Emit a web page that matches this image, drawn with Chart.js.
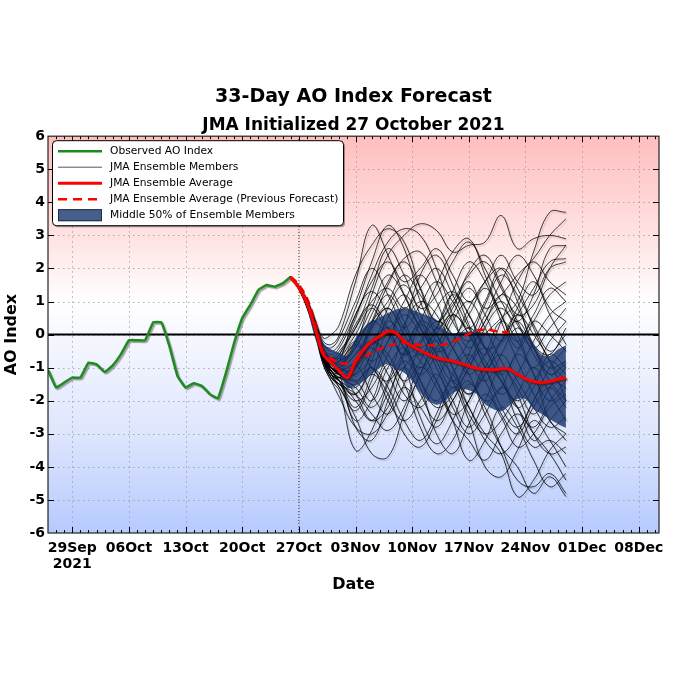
<!DOCTYPE html>
<html>
<head>
<meta charset="utf-8">
<title>33-Day AO Index Forecast</title>
<script src="https://cdn.jsdelivr.net/npm/chart.js@4.4.0/dist/chart.umd.min.js"></script>
<style>
  html, body { margin: 0; padding: 0; background: #fff; }
  #wrap { width: 680px; height: 680px; }
</style>
</head>
<body>
<div id="wrap"><canvas id="aoChart" width="680" height="680"></canvas></div>
<script>
// all x values are days counted from 29 Sep 2021
const tickDays = [0, 7, 14, 21, 28, 35, 42, 49, 56, 63, 70];
const tickLabels = [['29Sep', '2021'], '06Oct', '13Oct', '20Oct', '27Oct', '03Nov', '10Nov', '17Nov', '24Nov', '01Dec', '08Dec'];
const initDay = 28; // 27 Oct

// observed AO index, 26 Sep .. 26 Oct
const obsDays = [-3, -2, -1, 0, 1, 2, 3, 4, 5, 6, 7, 8, 9, 10, 11, 12, 13, 14, 15, 16, 17, 18, 19, 20, 21, 22, 23, 24, 25, 26, 27];
const obsValues = [-1.07, -1.6, -1.45, -1.3, -1.3, -0.85, -0.9, -1.13, -0.93, -0.6, -0.17, -0.17, -0.17, 0.37, 0.37, -0.35,
  -1.25, -1.6, -1.47, -1.55, -1.8, -1.93, -1.15, -0.25, 0.5, 0.9, 1.35, 1.5, 1.45, 1.55, 1.75];

// ensemble members
const fcstDays = [27, 28, 29, 30, 31, 32, 33, 35, 37, 39, 41, 43, 45, 47, 49, 51, 53, 55, 57, 59, 61];
const memberValues = [
  [1.75, 1.45, 1.0, 0.4, -0.2, -0.3, 0.0, 1.6, 3.3, 2.4, 1.2, 0.2, -0.6, -1.2, -1.8, -1.0, -0.2, 0.4, -0.4, -1.0, -0.8],
  [1.75, 1.4, 0.95, 0.3, -0.4, -0.7, -0.6, 0.5, 1.8, 2.8, 3.2, 3.0, 2.0, 0.6, -0.4, 0.4, 1.2, 0.8, -0.4, -1.2, -0.9],
  [1.75, 1.4, 0.9, 0.2, -0.5, -0.8, -0.9, -0.3, 1.2, 2.4, 3.0, 3.35, 3.15, 2.5, 2.7, 2.8, 3.6, 2.6, 2.9, 3.0, 2.9],
  [1.75, 1.42, 0.92, 0.25, -0.6, -1.0, -1.2, -1.5, -0.5, 0.8, 1.5, 0.6, -0.6, -1.4, -0.8, 0.0, 0.5, 1.0, 2.5, 3.7, 3.7],
  [1.75, 1.38, 0.85, 0.15, -0.7, -1.1, -1.3, -0.8, 0.3, 1.5, 2.2, 1.4, 0.4, 0.9, 1.6, 0.8, 1.2, 1.8, 2.3, 3.0, 3.5],
  [1.75, 1.45, 1.05, 0.45, -0.1, 0.0, 0.3, 1.8, 2.7, 3.2, 2.8, 1.4, 0.2, 0.8, 1.9, 2.4, 1.5, 0.6, 0.9, 2.0, 2.7],
  [1.75, 1.4, 0.9, 0.2, -0.6, -1.0, -1.2, -2.8, -3.2, -2.0, -0.8, -1.6, -3.0, -3.6, -2.7, -1.8, -2.5, -3.4, -3.0, -2.2, -1.8],
  [1.75, 1.35, 0.8, 0.0, -0.9, -1.4, -1.7, -3.5, -2.9, -1.5, -0.5, 0.3, -0.2, -1.0, -2.2, -3.0, -3.6, -4.9, -4.4, -3.5, -3.0],
  [1.75, 1.38, 0.85, 0.1, -0.8, -1.3, -1.6, -2.5, -3.6, -3.7, -2.4, -1.2, -0.4, -1.4, -2.6, -4.0, -4.3, -3.5, -2.6, -3.2, -4.0],
  [1.75, 1.4, 0.9, 0.2, -0.7, -1.1, -1.4, -2.2, -1.2, 0.0, -0.9, -2.5, -3.3, -2.6, -1.5, -2.2, -3.4, -4.4, -4.6, -4.2, -4.8],
  [1.75, 1.42, 0.95, 0.3, -0.5, -0.8, -0.7, 0.3, 0.9, 0.2, -0.6, 0.4, 1.5, 2.5, 2.9, 1.8, 0.6, -0.2, 0.6, 1.4, 1.0],
  [1.75, 1.4, 0.9, 0.2, -0.6, -0.9, -1.0, -1.2, -0.6, 0.5, 1.2, 0.4, -0.5, -0.2, 0.8, 1.6, 2.0, 1.0, -0.3, -0.6, 0.2],
  [1.75, 1.4, 0.9, 0.2, -0.6, -1.0, -1.1, -0.9, -1.8, -2.4, -1.5, -0.3, 0.8, 1.3, 0.6, -0.4, -1.2, -0.5, 0.4, 0.0, -0.5],
  [1.75, 1.42, 0.92, 0.25, -0.5, -0.9, -0.8, 0.6, 1.3, 0.6, -0.4, -1.2, -0.6, 0.4, 1.0, 0.2, -0.8, -1.6, -2.4, -1.6, -1.0],
  [1.75, 1.38, 0.85, 0.1, -0.8, -1.3, -1.5, -2.0, -1.6, -0.6, 0.3, 1.0, 0.6, -0.4, -1.2, -2.0, -1.6, -0.6, -1.2, -2.6, -3.0],
  [1.75, 1.4, 0.9, 0.2, -0.6, -1.1, -1.3, -1.6, -2.2, -1.4, 0.2, 1.8, 2.4, 1.5, 0.3, -0.8, -1.4, -2.2, -2.8, -2.0, -1.4],
  [1.75, 1.45, 1.0, 0.4, -0.3, -0.4, -0.1, 1.0, 2.0, 1.2, 0.2, -0.4, 0.2, 1.3, 2.2, 1.6, 0.4, -0.8, -1.8, -2.6, -3.2],
  [1.75, 1.4, 0.9, 0.2, -0.7, -1.2, -1.5, -1.8, -0.8, 0.4, -0.2, -1.4, -2.2, -1.8, -0.6, 0.4, 1.0, 0.3, -0.6, -1.4, -2.0],
  [1.75, 1.4, 0.9, 0.15, -0.7, -1.2, -1.4, -2.6, -2.0, -0.9, -1.5, -2.8, -3.6, -3.2, -2.0, -1.2, -0.6, -1.4, -2.2, -2.8, -2.5],
  [1.75, 1.38, 0.85, 0.1, -0.8, -1.2, -1.3, -1.0, 0.2, 0.8, 0.0, -0.8, -1.4, -2.6, -3.8, -3.2, -2.2, -2.8, -3.8, -4.6, -4.2],
  [1.75, 1.42, 0.95, 0.3, -0.5, -0.8, -0.8, -0.4, 0.6, 1.6, 2.3, 2.5, 1.6, 0.4, -0.2, 0.6, 1.6, 2.4, 1.8, 0.8, 0.4],
  [1.75, 1.4, 0.9, 0.2, -0.6, -1.0, -1.1, -0.6, -0.2, -0.8, -1.8, -2.2, -1.4, -0.4, 0.2, -0.4, -1.4, -2.0, -1.4, -0.8, -1.2],
  [1.75, 1.4, 0.92, 0.25, -0.5, -0.9, -1.0, -0.2, 0.8, 1.8, 1.2, 0.2, -0.2, 0.6, 1.4, 0.6, -0.2, 0.6, 1.4, 2.2, 2.3],
  [1.75, 1.38, 0.88, 0.15, -0.7, -1.2, -1.6, -2.3, -1.4, -0.2, 0.6, 0.0, -1.0, -2.0, -2.8, -2.0, -1.0, -1.8, -3.0, -3.6, -3.4],
  [1.75, 1.45, 1.0, 0.35, -0.3, -0.5, -0.3, 0.8, 2.2, 3.3, 2.6, 1.0, 0.0, -0.8, -0.2, 0.9, 1.8, 1.2, 0.3, -0.5, 0.0],
  [1.75, 1.4, 0.9, 0.2, -0.6, -1.0, -1.2, -1.4, -1.0, -1.6, -2.6, -3.2, -2.4, -1.2, -0.6, -1.4, -2.4, -3.0, -2.2, -1.6, -2.2],
  [1.75, 1.4, 0.9, 0.2, -0.6, -0.9, -0.9, -0.2, -0.8, -0.2, 0.8, 0.2, -0.8, -1.6, -1.0, 0.2, 0.8, 0.0, -1.2, -2.0, -1.6],
  [1.75, 1.42, 0.92, 0.2, -0.6, -1.0, -1.1, -0.8, 0.4, 1.2, 0.4, -0.6, 0.2, 1.2, 0.6, -0.4, -0.2, 0.8, 1.6, 0.6, -0.3],
  [1.75, 1.38, 0.85, 0.1, -0.8, -1.3, -1.5, -1.8, -2.4, -2.9, -2.2, -1.0, -1.6, -2.6, -3.2, -3.8, -3.0, -2.4, -3.0, -3.6, -4.4],
  [1.75, 1.4, 0.9, 0.2, -0.6, -1.0, -1.0, -0.4, 0.4, 0.0, -0.6, -0.2, 0.4, 0.0, -0.8, -1.4, -0.6, 0.2, -0.4, -1.2, -0.8],
  [1.75, 1.42, 0.95, 0.3, -0.4, -0.6, -0.4, 0.6, 1.6, 2.2, 1.6, 2.0, 2.6, 1.8, 1.0, 1.6, 2.4, 1.6, 1.2, 2.0, 2.2],
  [1.75, 1.4, 0.9, 0.2, -0.6, -1.1, -1.4, -1.8, -1.2, -1.8, -3.0, -3.4, -2.6, -1.6, -2.2, -3.2, -3.6, -3.0, -2.0, -1.4, -1.6],
  [1.75, 1.4, 0.88, 0.15, -0.7, -1.1, -1.2, -1.2, -0.2, 0.2, -0.4, -1.0, -0.4, 0.6, 0.0, -1.0, -1.8, -1.2, -0.2, 0.6, 1.0],
  [1.75, 1.42, 0.95, 0.3, -0.5, -0.7, -0.5, 0.2, 1.4, 2.6, 1.8, 0.8, 1.2, 2.2, 2.8, 2.0, 1.0, 0.4, 1.2, 2.6, 2.7],
  [1.75, 1.4, 0.9, 0.2, -0.6, -1.0, -1.2, -1.8, -2.6, -2.2, -1.0, -0.6, -1.4, -2.4, -2.0, -1.0, -1.4, -2.6, -3.4, -3.2, -3.6],
  [1.75, 1.38, 0.85, 0.1, -0.9, -1.4, -1.9, -2.8, -3.0, -2.4, -1.6, -2.2, -2.8, -2.0, -1.4, -2.4, -3.4, -4.0, -4.8, -4.3, -4.9],
  [1.75, 1.4, 0.9, 0.2, -0.6, -0.9, -0.8, -0.2, 0.4, 1.0, 1.8, 1.2, 0.4, 1.0, 1.8, 2.2, 1.4, 0.4, -0.4, 0.2, 0.8],
  [1.75, 1.4, 0.9, 0.2, -0.6, -1.0, -1.2, -1.0, -0.4, -1.2, -2.0, -1.2, 0.0, 0.6, 0.0, -1.0, -2.2, -2.8, -2.0, -1.0, -0.4],
  [1.75, 1.42, 0.92, 0.25, -0.55, -0.9, -1.0, -0.6, 0.2, 0.8, 0.2, 0.9, 1.6, 1.0, 0.2, 1.0, 2.0, 1.4, 0.2, -0.8, -1.4],
  [1.75, 1.38, 0.86, 0.12, -0.75, -1.2, -1.4, -2.0, -2.6, -1.8, -1.0, -1.8, -2.6, -2.0, -1.0, -0.4, -1.2, -2.2, -1.6, -0.6, -1.0],
  [1.75, 1.4, 0.9, 0.2, -0.6, -1.0, -1.0, -0.3, -1.0, -1.4, -0.6, 0.4, 0.0, -1.0, -1.8, -1.2, -0.2, 0.6, 0.0, -0.8, -2.0],
  [1.75, 1.42, 0.95, 0.28, -0.5, -0.8, -0.6, 0.2, 1.0, 1.4, 0.8, 1.4, 2.0, 1.2, 0.2, -0.6, 0.4, 1.6, 2.2, 1.6, 1.2],
  [1.75, 1.4, 0.9, 0.2, -0.65, -1.1, -1.3, -1.4, -2.0, -1.0, -0.4, -1.4, -2.0, -1.4, -2.4, -3.0, -2.6, -1.8, -1.0, -1.8, -2.6],
  [1.75, 1.4, 0.9, 0.2, -0.6, -1.0, -1.1, -1.0, -0.2, -0.6, -1.4, -0.8, 0.2, -0.4, -1.2, -0.6, 0.4, -0.2, -1.0, -0.2, 0.4],
  [1.75, 1.42, 0.95, 0.3, -0.45, -0.7, -0.7, 0.0, 0.8, 0.2, 1.0, 1.8, 1.0, 0.0, 0.6, 1.4, 0.6, -0.4, 0.4, 1.2, 1.6],
  [1.75, 1.38, 0.86, 0.12, -0.75, -1.2, -1.4, -1.6, -1.0, -2.0, -2.6, -2.0, -1.2, -2.2, -3.0, -2.4, -1.6, -2.2, -3.2, -2.6, -2.0]
];

// ensemble average, daily 26 Oct .. 28 Nov
const avgDays = [27, 28, 29, 30, 31, 32, 33, 34, 35, 36, 37, 38, 39, 40, 41, 42, 43, 44, 45, 46, 47, 48, 49, 50, 51, 52, 53, 54, 55, 56, 57, 58, 59, 60, 61];
const avgValues = [1.72, 1.42, 0.95, 0.2, -0.6, -0.85, -1.1, -1.3, -0.8, -0.45, -0.2, -0.05, 0.1, 0.05, -0.2, -0.35, -0.48, -0.6,
  -0.7, -0.75, -0.8, -0.87, -0.95, -1.02, -1.05, -1.07, -1.03, -1.05, -1.2, -1.33, -1.42, -1.45, -1.42, -1.35, -1.3];

// previous forecast average
const prevDays = [27, 28, 29, 30, 31, 32, 33, 34, 35, 36, 37, 38, 39, 40, 41, 42, 43, 44, 45, 46, 47, 48, 49, 50, 51, 52, 53, 54];
const prevValues = [1.75, 1.5, 1.1, 0.4, -0.5, -0.72, -0.85, -0.88, -0.8, -0.68, -0.55, -0.43, -0.35, -0.28, -0.25, -0.28, -0.31,
  -0.32, -0.32, -0.3, -0.22, -0.1, 0.02, 0.12, 0.15, 0.12, 0.08, 0.06];

// middle 50% of members
const bandDays = avgDays;
const bandUpper = [1.75, 1.5, 1.05, 0.35, -0.25, -0.45, -0.55, -0.65, -0.1, 0.2, 0.4, 0.52, 0.65, 0.76, 0.79, 0.75, 0.65, 0.56,
  0.45, 0.15, 0.04, 0.07, 0.09, 0.08, 0.06, 0.02, 0.01, 0.03, 0.04, 0.0, -0.3, -0.6, -0.65, -0.45, -0.32];
const bandLower = [1.7, 1.35, 0.8, -0.1, -0.65, -0.95, -1.15, -1.62, -1.55, -1.4, -1.2, -1.0, -0.88, -1.05, -1.15, -1.4, -1.75, -2.0,
  -2.12, -2.02, -1.78, -1.65, -1.68, -1.8, -2.1, -2.25, -2.32, -2.15, -1.95, -1.95, -2.25, -2.4, -2.55, -2.7, -2.82];

const legendLabels = ['Observed AO Index', 'JMA Ensemble Members', 'JMA Ensemble Average',
  'JMA Ensemble Average (Previous Forecast)', 'Middle 50% of Ensemble Members'];

const GREEN = '#1f8a1f';
const RED = '#ff0000';
const BAND = 'rgba(20,50,105,0.8)';

const toPts = (xs, ys) => ys.map((y, i) => ({ x: xs[i], y: y }));

// Build datasets
const memberSets = memberValues.map(vals => ({
    data: toPts(fcstDays, vals),
    borderColor: 'rgba(0,0,0,0.85)',
    borderWidth: 0.9,
    pointRadius: 0,
    tension: 0.4,
    fill: false,
    order: 10,
    shadow: 'rgba(0,0,0,0.2)'
}));

const datasets = [
    { data: toPts(avgDays, avgValues), borderColor: RED, borderWidth: 3, pointRadius: 0, tension: 0.3, order: 1, shadow: 'rgba(60,20,20,0.6)' },
    { data: toPts(prevDays, prevValues), borderColor: RED, borderWidth: 2.5, borderDash: [8, 5], pointRadius: 0, tension: 0.3, order: 2 },
    { data: toPts(obsDays, obsValues), borderColor: GREEN, borderWidth: 2.5, pointRadius: 0, tension: 0.1, order: 3, shadow: 'rgba(90,90,90,0.55)' },
    { data: [{ x: -3, y: 0 }, { x: 72.5, y: 0 }], borderColor: '#000', borderWidth: 2, pointRadius: 0, order: 4 },
    { data: [{ x: initDay, y: -6 }, { x: initDay, y: 6 }], borderColor: 'rgba(0,0,0,0.7)', borderWidth: 1, borderDash: [1, 2], pointRadius: 0, order: 4 },
    { data: toPts(bandDays, bandLower), borderColor: 'rgba(0,0,0,0)', borderWidth: 0, pointRadius: 0, tension: 0.3, fill: false, order: 5 },
    { data: toPts(bandDays, bandUpper), borderColor: 'rgba(0,0,0,0)', borderWidth: 0, pointRadius: 0, tension: 0.3, fill: '-1', backgroundColor: BAND, order: 5 }
].concat(memberSets);

// Shadow under selected lines
const shadowPlugin = {
    id: 'lineShadow',
    beforeDatasetDraw(chart, args) {
        const ds = chart.data.datasets[args.index];
        if (!ds.shadow) return;
        const ctx = chart.ctx;
        ctx.save();
        ctx.shadowColor = ds.shadow;
        ctx.shadowOffsetX = 1.5;
        ctx.shadowOffsetY = 1.5;
        ctx.shadowBlur = 1;
    },
    afterDatasetDraw(chart, args) {
        if (chart.data.datasets[args.index].shadow) chart.ctx.restore();
    }
};

// Background, grid, frame, inward ticks and legend box
const decorPlugin = {
    id: 'decor',
    beforeDraw(chart) {
        const ctx = chart.ctx;
        const { left, right, top, bottom } = chart.chartArea;
        const yS = chart.scales.y;
        ctx.save();
        ctx.fillStyle = '#fff';
        ctx.fillRect(0, 0, chart.width, chart.height);
        const g = ctx.createLinearGradient(0, yS.getPixelForValue(6), 0, yS.getPixelForValue(-6));
        g.addColorStop(0, 'rgb(255,190,190)');
        g.addColorStop(0.25, 'rgb(255,226,226)');
        g.addColorStop(0.42, 'rgb(255,255,255)');
        g.addColorStop(0.5, 'rgb(246,248,255)');
        g.addColorStop(0.75, 'rgb(222,230,253)');
        g.addColorStop(1, 'rgb(182,202,254)');
        ctx.fillStyle = g;
        ctx.fillRect(left, top, right - left, bottom - top);
        ctx.restore();
    },
    beforeDatasetsDraw(chart) {
        const ctx = chart.ctx;
        const { left, right, top, bottom } = chart.chartArea;
        const xS = chart.scales.x, yS = chart.scales.y;
        ctx.save();
        ctx.strokeStyle = 'rgba(150,150,150,0.75)';
        ctx.lineWidth = 1;
        ctx.setLineDash([1.5, 3.5]);
        tickDays.forEach(d => {
            const px = Math.round(xS.getPixelForValue(d)) + 0.5;
            ctx.beginPath(); ctx.moveTo(px, top); ctx.lineTo(px, bottom); ctx.stroke();
        });
        for (let v = -5; v <= 5; v++) {
            const py = Math.round(yS.getPixelForValue(v)) + 0.5;
            ctx.beginPath(); ctx.moveTo(left, py); ctx.lineTo(right, py); ctx.stroke();
        }
        ctx.restore();
    },
    afterDatasetsDraw(chart) {
        const ctx = chart.ctx;
        const { left, right, top, bottom } = chart.chartArea;
        const xS = chart.scales.x, yS = chart.scales.y;
        ctx.save();
        ctx.strokeStyle = '#000';
        ctx.lineWidth = 1;
        ctx.beginPath();
        for (let d = -2; d <= 72; d++) {
            const px = Math.round(xS.getPixelForValue(d)) + 0.5;
            const len = tickDays.includes(d) ? 6 : 3;
            ctx.moveTo(px, bottom); ctx.lineTo(px, bottom - len);
            ctx.moveTo(px, top); ctx.lineTo(px, top + len);
        }
        for (let v = -5; v <= 5; v++) {
            const py = Math.round(yS.getPixelForValue(v)) + 0.5;
            ctx.moveTo(left, py); ctx.lineTo(left + 6, py);
            ctx.moveTo(right, py); ctx.lineTo(right - 6, py);
        }
        ctx.stroke();
        ctx.strokeStyle = '#222';
        ctx.lineWidth = 1.2;
        ctx.strokeRect(left, top, right - left, bottom - top);
        ctx.restore();
    },
    afterDraw(chart) {
        const ctx = chart.ctx;
        const x0 = chart.chartArea.left + 4, y0 = chart.chartArea.top + 4;
        const w = 291, h = 85;
        ctx.save();
        ctx.fillStyle = 'rgba(0,0,0,0.35)';
        ctx.beginPath(); ctx.roundRect(x0 + 2, y0 + 2, w, h, 4); ctx.fill();
        ctx.fillStyle = '#fff';
        ctx.strokeStyle = '#000';
        ctx.lineWidth = 1;
        ctx.beginPath(); ctx.roundRect(x0 + 0.5, y0 + 0.5, w, h, 4); ctx.fill(); ctx.stroke();

        ctx.font = '10.7px "DejaVu Sans"';
        ctx.textBaseline = 'middle';
        ctx.fillStyle = '#000';
        legendLabels.forEach((label, i) => {
            const ry = y0 + 11 + i * 16;
            const sx0 = x0 + 6, sx1 = x0 + 50;
            ctx.save();
            if (i === 4) {
                ctx.fillStyle = 'rgba(25,55,110,0.8)';
                ctx.fillRect(sx0, ry - 6, sx1 - sx0, 12);
                ctx.strokeStyle = 'rgba(20,40,80,0.9)';
                ctx.strokeRect(sx0 + 0.5, ry - 5.5, sx1 - sx0 - 1, 11);
            } else {
                ctx.beginPath();
                ctx.moveTo(sx0, ry); ctx.lineTo(sx1, ry);
                if (i === 0) { ctx.strokeStyle = GREEN; ctx.lineWidth = 2.5; }
                if (i === 1) { ctx.strokeStyle = '#444'; ctx.lineWidth = 0.9; }
                if (i === 2) { ctx.strokeStyle = RED; ctx.lineWidth = 3; }
                if (i === 3) { ctx.strokeStyle = RED; ctx.lineWidth = 2.5; ctx.setLineDash([9, 6]); }
                ctx.stroke();
            }
            ctx.restore();
            ctx.fillText(label, x0 + 58, ry + 0.5);
        });
        ctx.restore();
    }
};

Chart.defaults.font.family = '"DejaVu Sans", sans-serif';
Chart.defaults.color = '#000';

const ctx = document.getElementById('aoChart').getContext('2d');
const chart = new Chart(ctx, {
    type: 'line',
    data: { datasets: datasets },
    options: {
        responsive: false,
        animation: false,
        devicePixelRatio: 1,
        events: [],
        layout: { padding: { top: 70, left: 0, right: 21, bottom: 80 } },
        scales: {
            x: {
                type: 'linear',
                min: -3,
                max: 72.5,
                afterBuildTicks: (scale) => { scale.ticks = tickDays.map(v => ({ value: v })); },
                afterFit: (scale) => { scale.height = 67; },
                ticks: {
                    autoSkip: false,
                    maxRotation: 0,
                    padding: 6.6,
                    font: { size: 14, weight: 'bold' },
                    callback: (value) => tickLabels[tickDays.indexOf(value)]
                },
                grid: { display: false, drawTicks: false },
                border: { display: false },
                title: {
                    display: true,
                    text: 'Date',
                    font: { size: 16, weight: 'bold' },
                    padding: { top: 0, bottom: 5.4 }
                }
            },
            y: {
                min: -6,
                max: 6,
                afterFit: (scale) => { scale.width = 48; },
                ticks: {
                    stepSize: 1,
                    padding: 3,
                    font: { size: 14, weight: 'bold' }
                },
                grid: { display: false, drawTicks: false },
                border: { display: false },
                title: {
                    display: true,
                    text: 'AO Index',
                    font: { size: 16, weight: 'bold' },
                    padding: { top: 2.4, bottom: 0 }
                }
            }
        },
        plugins: {
            legend: { display: false },
            tooltip: { enabled: false },
            title: {
                display: true,
                fullSize: false,
                text: '33-Day AO Index Forecast',
                font: { size: 19, weight: 'bold' },
                padding: { top: 15.6, bottom: 5 }
            },
            subtitle: {
                display: true,
                fullSize: false,
                text: 'JMA Initialized 27 October 2021',
                color: '#000',
                font: { size: 17, weight: 'bold' },
                padding: { top: 2.4, bottom: 0 }
            }
        }
    },
    plugins: [shadowPlugin, decorPlugin]
});
</script>
</body>
</html>
